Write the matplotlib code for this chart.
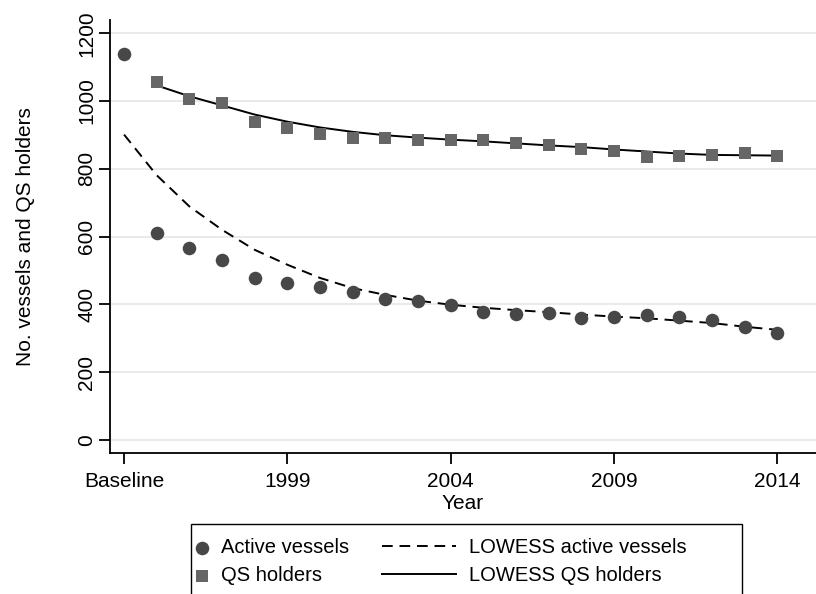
import matplotlib.pyplot as plt
from matplotlib.patches import Rectangle

plt.rcParams['font.family'] = ['Liberation Sans', 'DejaVu Sans']

# baseline plotted at 1994
years = list(range(1994, 2015))
active_vessels = [1140, 610, 566, 530, 478, 463, 451, 436, 417, 410, 397,
                  379, 373, 375, 360, 364, 369, 362, 354, 332, 316]

qs_years = list(range(1995, 2015))
qs_holders = [1055, 1007, 995, 939, 920, 903, 891, 891, 886, 886,
              885, 875, 869, 857, 853, 835, 839, 842, 847, 837]

lowess_active = [901, 781, 689, 620, 561, 517, 478, 448, 428, 411, 399,
                 390, 383, 377, 370, 364, 359, 352, 345, 334, 325]
lowess_qs = [1046, 1014, 987, 960, 939, 922, 909, 899, 892, 886,
             881, 875, 869, 864, 857, 851, 845, 841, 840, 839]

tick_pos = [1994, 1999, 2004, 2009, 2014]
tick_labels = ['Baseline', '1999', '2004', '2009', '2014']
y_ticks = [0, 200, 400, 600, 800, 1000, 1200]

W, H = 816, 594
fig = plt.figure(figsize=(W / 100, H / 100), dpi=100)
ax = fig.add_axes([110 / W, 1 - 453 / H, 1 - 110 / W, (453 - 20) / H])

for y in y_ticks:
    ax.axhline(y, color='#e6e6e6', linewidth=1.2, zorder=0)

l1, = ax.plot(years, lowess_active, color='black', linestyle=(0, (5.5, 3.5)),
              linewidth=1.4, zorder=2)
l2, = ax.plot(qs_years, lowess_qs, color='black', linewidth=1.4, zorder=2)
s1 = ax.scatter(years, active_vessels, s=95, marker='o', color='#474747',
                linewidths=0, zorder=3)
s2 = ax.scatter(qs_years, qs_holders, s=80, marker='s', color='#666666',
                linewidths=0, zorder=3)

ax.set_xlim(1993.57, 2015.18)
ax.set_ylim(-38.4, 1239)
ax.set_xticks(tick_pos)
ax.set_xticklabels(tick_labels)
ax.set_yticks(y_ticks)
ax.set_yticklabels([str(v) for v in y_ticks], rotation=90, va='center')

for side in ['top', 'right']:
    ax.spines[side].set_visible(False)
for side in ['left', 'bottom']:
    ax.spines[side].set_linewidth(1.3)
ax.tick_params(axis='both', length=8, width=1.3, labelsize=15)
ax.tick_params(axis='y', pad=2)
ax.tick_params(axis='x', pad=6)

ax.set_xlabel('Year', fontsize=15, labelpad=1.5)
ax.set_ylabel('No. vessels and QS holders', fontsize=15, labelpad=30)

# legend: frame drawn as a box, two borderless columns inside it
fig.patches.append(Rectangle((191 / W, -0.05), (742 - 191) / W, 0.05 + (594 - 524) / H,
                             transform=fig.transFigure, fill=False,
                             edgecolor='black', linewidth=1.0))
leg_kw = dict(loc='upper left', fontsize=14.5, frameon=False, borderaxespad=0,
              borderpad=0, labelspacing=0.45)
fig.legend([s1, s2], ['Active vessels', 'QS holders'],
           bbox_to_anchor=(195 / W, 1 - 538 / H), handlelength=0.7,
           handletextpad=0.6, **leg_kw)
fig.legend([l1, l2], ['LOWESS active vessels', 'LOWESS QS holders'],
           bbox_to_anchor=(382 / W, 1 - 538 / H), handlelength=3.65,
           handletextpad=0.65, **leg_kw)

fig.savefig('out.png', dpi=100)
